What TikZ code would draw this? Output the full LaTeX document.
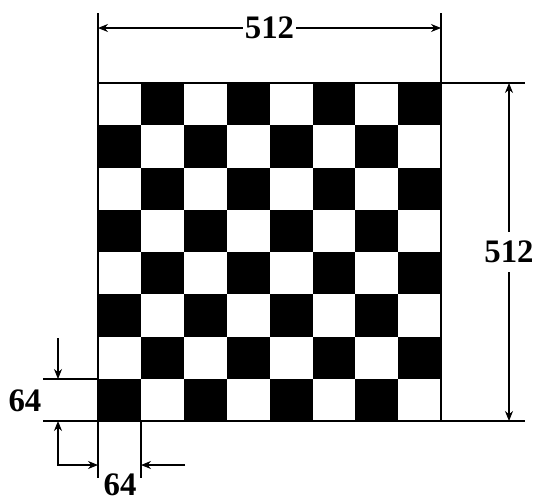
\documentclass[tikz,border=0pt]{standalone}
\usepackage{fontspec}
\setmainfont{Liberation Serif}
\usetikzlibrary{arrows.meta,positioning,calc}

\begin{document}
\begin{tikzpicture}[x=0.03cm,y=-0.03cm,font=\fontsize{28}{30}\selectfont\bfseries,>={Stealth[length=3mm,width=2.4mm]}]
    \tikzset{dim/.style={fill=white,inner sep=2pt},line/.style={line width=0.9pt}}
    \useasboundingbox (0,0) rectangle (540,502);
    % board
    \foreach \r in {0,...,7}
      \foreach \c in {0,...,7}{
        \pgfmathtruncatemacro{\odd}{mod(\r+\c,2)}
        \ifnum\odd=1 \fill (98+\c*42.9,83+\r*42.25) rectangle ++(42.9,42.25); \fi
      }
    \coordinate (nw) at (98,83); \coordinate (ne) at (441,83);
    \coordinate (sw) at (98,421); \coordinate (se) at (441,421);
    \draw[line] (nw) rectangle (se);
    % top 512
    \coordinate (t1) at (98,13); \coordinate (t2) at (441,13);
    \draw[line] (nw)--(t1); \draw[line] (ne)--(t2);
    \coordinate (ta) at (98,28); \coordinate (tb) at (441,28);
    \draw[line,<->] (ta)--(tb) node[midway,dim] (wtop) {512};
    % right 512
    \coordinate (r1) at (525,83); \coordinate (r2) at (525,421);
    \draw[line] (ne)--(r1); \draw[line] (se)--(r2);
    \coordinate (ra) at (509,83); \coordinate (rb) at (509,421);
    \draw[line,<->] (ra)--(rb) node[midway,dim,inner sep=8pt] (hright) {512};
    % one cell, 64
    \coordinate (c1) at (43,379); \coordinate (c1e) at (98,379);
    \coordinate (c2) at (43,421);
    \draw[line] (c1)--(c1e); \draw[line] (c2)--(sw);
    \coordinate (la) at (58,338); \coordinate (lb) at (58,379); \coordinate (lc) at (58,421);
    \draw[line,->] (la)--(lb);
    \coordinate (b1) at (98,478); \coordinate (b2t) at (141,421); \coordinate (b2) at (141,478);
    \draw[line] (sw)--(b1); \draw[line] (b2t)--(b2);
    \coordinate (ba) at (98,465); \coordinate (bb) at (185,465); \coordinate (bc) at (141,465);
    \draw[line,<->] (lc)|-(ba);
    \draw[line,->] (bb)--(bc);
    \node (hcell) at (25,401) {64};
    \node (wcell) at (120,485) {64};
  \end{tikzpicture}
\end{document}
